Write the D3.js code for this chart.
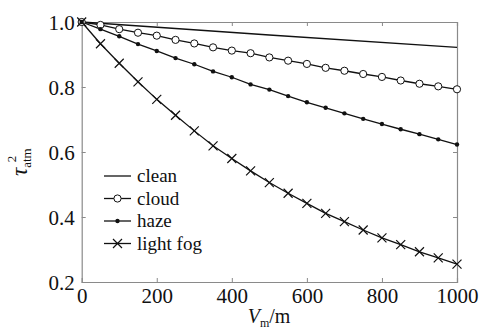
<!DOCTYPE html>
<html>
<head>
<meta charset="utf-8">
<script src="https://cdn.jsdelivr.net/npm/d3@7"></script>
<style>
html,body{margin:0;padding:0;background:#fff;}
svg{display:block;}
svg text{font-family:'Liberation Serif','DejaVu Serif','Noto Serif',serif;fill:#111;}
</style>
</head>
<body>
<svg id="chart" width="486" height="329"></svg>
<script>
const distances = [0,50,100,150,200,250,300,350,400,450,500,550,600,650,700,750,800,850,900,950,1000];
const cleanX = [0,500,1000];
const cleanY = [1.0,0.960,0.922];
const cloudY = [1.0,0.991,0.978,0.967,0.958,0.945,0.934,0.922,0.912,0.904,0.891,0.881,0.871,0.859,0.850,0.840,0.831,0.820,0.810,0.802,0.793];
const hazeY  = [1.0,0.978,0.956,0.932,0.911,0.889,0.870,0.848,0.830,0.808,0.792,0.772,0.753,0.736,0.719,0.702,0.686,0.670,0.655,0.639,0.623];
const fogY   = [1.0,0.933,0.873,0.816,0.762,0.713,0.665,0.619,0.580,0.542,0.506,0.473,0.442,0.411,0.386,0.360,0.336,0.315,0.293,0.274,0.255];
const xTicks = [0,200,400,600,800,1000];
const yTicks = [0.2,0.4,0.6,0.8,1.0];
const legendLabels = ["clean","cloud","haze","light fog"];

const FONT = "'Liberation Serif','DejaVu Serif','Noto Serif',serif";
const svg = d3.select("#chart");
const L = 81.7, R = 457, T = 22, B = 282;
const x = d3.scaleLinear().domain([0,1000]).range([L,R]);
const y = d3.scaleLinear().domain([0.2,1.0]).range([B,T]);
const axisColor = "#8a8a8a";

const gB = svg.append("g").attr("transform",`translate(0,${B})`)
  .call(d3.axisBottom(x).tickValues(xTicks).tickSize(-4).tickPadding(8).tickFormat(d3.format("d")));
const gT = svg.append("g").attr("transform",`translate(0,${T})`)
  .call(d3.axisTop(x).tickValues(xTicks).tickSize(-4).tickFormat(""));
const gL = svg.append("g").attr("transform",`translate(${L},0)`)
  .call(d3.axisLeft(y).tickValues(yTicks).tickSize(-4).tickPadding(7).tickFormat(d3.format(".1f")));
const gR = svg.append("g").attr("transform",`translate(${R},0)`)
  .call(d3.axisRight(y).tickValues(yTicks).tickSize(-4).tickFormat(""));
[gB,gT,gL,gR].forEach(g=>{
  g.attr("font-family",FONT).attr("font-size",21);
  g.select(".domain").attr("stroke",axisColor).attr("stroke-width",1.2);
  g.selectAll(".tick line").attr("stroke",axisColor);
  g.selectAll(".tick text").attr("fill","#111").attr("font-family",FONT).attr("font-size",21);
});
gB.selectAll(".tick text").attr("dy","0.62em");
gL.selectAll(".tick text").attr("dy","0.34em");
gB.selectAll(".tick line").filter(d=>d===0||d===1000).remove();
gT.selectAll(".tick line").filter(d=>d===0||d===1000).remove();
gL.selectAll(".tick line").filter(d=>d===0.2||d===1.0).remove();
gR.selectAll(".tick line").filter(d=>d===0.2||d===1.0).remove();

const line = d3.line().x(d=>x(d[0])).y(d=>y(d[1]));
const plot = svg.append("g");
const cleanData = cleanX.map((v,i)=>[v,cleanY[i]]);
const cloudData = distances.map((v,i)=>[v,cloudY[i]]);
const hazeData = distances.map((v,i)=>[v,hazeY[i]]);
const fogData = distances.map((v,i)=>[v,fogY[i]]);
[cleanData,cloudData,hazeData,fogData].forEach(d=>{
  plot.append("path").datum(d).attr("d",line).attr("fill","none").attr("stroke","#111").attr("stroke-width",1.3);
});
plot.selectAll("circle.cloud").data(cloudData).join("circle")
  .attr("cx",d=>x(d[0])).attr("cy",d=>y(d[1])).attr("r",3.6)
  .attr("fill","#fff").attr("stroke","#111").attr("stroke-width",1);
plot.selectAll("circle.haze").data(hazeData).join("circle")
  .attr("cx",d=>x(d[0])).attr("cy",d=>y(d[1])).attr("r",2.2).attr("fill","#111");
const xs = 4.5;
const cross = (cx,cy,s)=>`M${cx-s},${cy-s}L${cx+s},${cy+s}M${cx-s},${cy+s}L${cx+s},${cy-s}`;
plot.selectAll("path.fog").data(fogData).join("path")
  .attr("d",d=>cross(x(d[0]),y(d[1]),xs)).attr("stroke","#111").attr("stroke-width",1.2).attr("fill","none");

const lg = svg.append("g");
const ly0 = 176, ldy = 22.5, lx1 = 104, lx2 = 131;
legendLabels.forEach((lab,i)=>{
  const yy = ly0 + i*ldy;
  lg.append("line").attr("x1",lx1).attr("x2",lx2).attr("y1",yy).attr("y2",yy).attr("stroke","#111").attr("stroke-width",1.3);
  const cx = (lx1+lx2)/2;
  if(i===1) lg.append("circle").attr("cx",cx).attr("cy",yy).attr("r",3.6).attr("fill","#fff").attr("stroke","#111");
  if(i===2) lg.append("circle").attr("cx",cx).attr("cy",yy).attr("r",2.2).attr("fill","#111");
  if(i===3) lg.append("path").attr("d",cross(cx,yy,xs)).attr("stroke","#111").attr("stroke-width",1.2);
  lg.append("text").attr("x",137).attr("y",yy).attr("dy","0.33em").attr("font-family",FONT).attr("font-size",19).text(lab);
});

const xt = svg.append("text").attr("x",269).attr("y",323).attr("text-anchor","middle").attr("font-family",FONT).attr("font-size",20);
xt.append("tspan").attr("font-style","italic").text("V");
xt.append("tspan").attr("font-size",12).attr("dy",4).text("m");
xt.append("tspan").attr("dy",-4).text("/m");

const yt = svg.append("text").attr("transform","translate(27,176) rotate(-90)").attr("font-family",FONT).attr("font-size",23);
yt.append("tspan").attr("font-style","italic").text("τ");
yt.append("tspan").attr("font-size",13).attr("dy",4).text("atm");
yt.append("tspan").attr("font-size",13).attr("dx",-14).attr("dy",-15).text("2");
</script>
</body>
</html>
